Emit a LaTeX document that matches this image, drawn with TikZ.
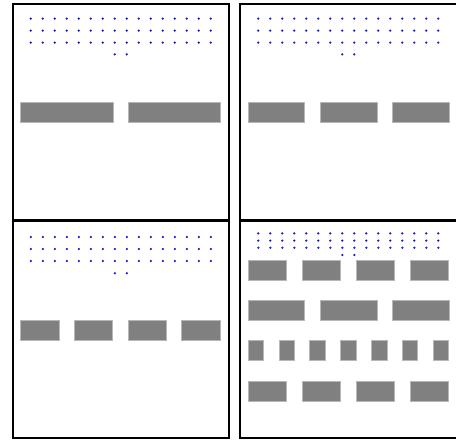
\documentclass[tikz,border=0pt]{standalone}
\usepackage{tikz}

\begin{document}
\begin{tikzpicture}[x=1pt,y=-1pt,
  frame/.style={draw=black,line width=2.4pt},
  dotmark/.style={fill=blue!85!black!90},
  slab/.style={fill=black!50,draw=black!28,line width=0.6pt,inner sep=0pt,minimum height=20pt,anchor=north west}]
\fill[white] (0,0) rectangle (456,443);
\useasboundingbox (0,0) rectangle (456,443);
% panel frames
\draw[frame] (13,4) rectangle (229,220.5);
\draw[frame] (240,4) rectangle (460,220.5);
\draw[frame] (13,220.5) rectangle (229,438);
\draw[frame] (240,220.5) rectangle (460,438);
% dot grids
\foreach \c in {0,...,15} \foreach \r in {0,1,2} {
  \fill[dotmark] (30.7+12*\c,18.6+12*\r) circle (1.25);
  \fill[dotmark] (258.3+12*\c,18.6+12*\r) circle (1.25);
  \fill[dotmark] (30.9+12*\c,237+12*\r) circle (1.25);
  \fill[dotmark] (258.3+12*\c,233.4+7.2*\r) circle (1.25);
}
\foreach \c in {7,8} {
  \fill[dotmark] (30.7+12*\c,54.4) circle (1.25);
  \fill[dotmark] (258.3+12*\c,54.4) circle (1.25);
  \fill[dotmark] (30.9+12*\c,273.2) circle (1.25);
  \fill[dotmark] (258.3+12*\c,255) circle (1.25);
}
% top left: two bars
\node[slab,minimum width=92.7pt] (tl_a) at (20,102.3) {};
\node[slab,minimum width=92.7pt] (tl_b) at (127.7,102.3) {};
% top right: three bars
\node[slab,minimum width=56.7pt] (tr_a) at (247.7,102.2) {};
\node[slab,minimum width=56.7pt] (tr_b) at (320,102.2) {};
\node[slab,minimum width=56.7pt] (tr_c) at (392,102.2) {};
% bottom left: four bars
\foreach \x [count=\i] in {20,73.7,127.7,181.3}
  \node[slab,minimum width=38.7pt] (bl_\i) at (\x,320.3) {};
% bottom right: four rows
\foreach \x [count=\i] in {247.7,301.7,355.7,409.7} {
  \node[slab,minimum width=38.7pt] (br1_\i) at (\x,260.2) {};
  \node[slab,minimum width=38.7pt] (br4_\i) at (\x,380.7) {};
}
\foreach \x [count=\i] in {247.7,320,392}
  \node[slab,minimum width=56.7pt] (br2_\i) at (\x,300.4) {};
\foreach \k in {0,...,6}
  \node[slab,minimum width=15.7pt] (br3_\k) at (247.7+30.8*\k,340.4) {};
\end{tikzpicture}
\end{document}
